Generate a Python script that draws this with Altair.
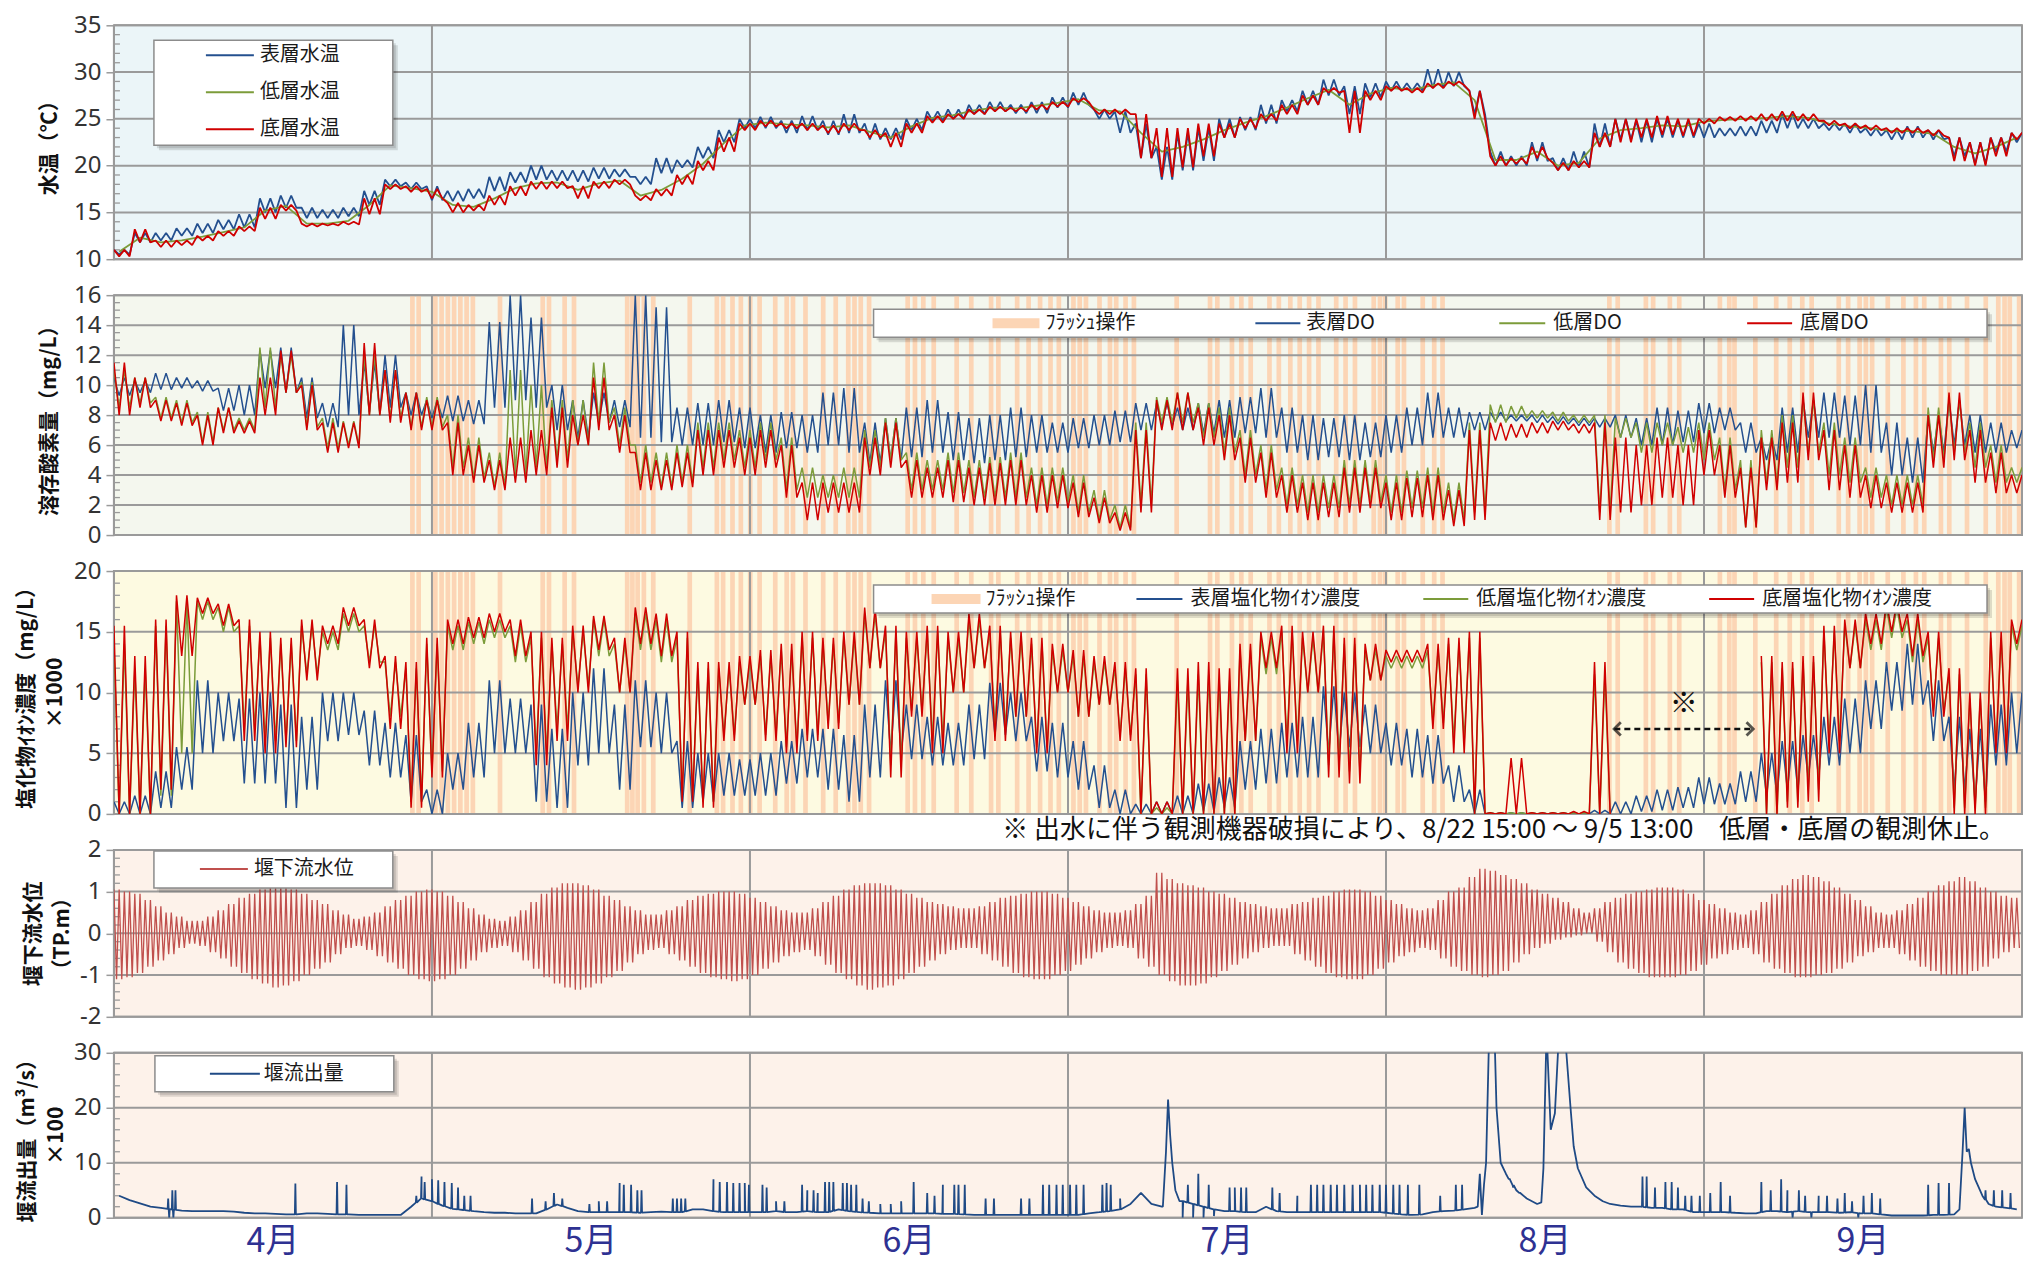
import altair as alt
import numpy as np
import pandas as pd

alt.data_transformers.disable_max_rows()

# ---------------- labels / axis text ----------------
MONTH_LABELS = ["4月", "5月", "6月", "7月", "8月", "9月"]
MONTH_START = [0, 30.5, 61, 91.5, 122, 152.5, 183]
MONTH_MID = [15.25, 45.75, 76.25, 106.75, 137.25, 167.75]

# ---------------- panel 1 : water temperature (2-day bins, hi / lo) ----------------
TEMP_SURF_HI = [11.0, 12.8, 12.8, 13.3, 13.8, 14.2, 14.8, 16.5, 16.8, 15.5,
                15.3, 15.5, 17.3, 18.5, 18.2, 17.8, 17.3, 17.5, 18.8, 19.3,
                20.0, 19.5, 19.5, 19.8, 19.6, 18.8, 20.8, 20.6, 22.0, 23.8,
                25.0, 25.2, 24.8, 25.3, 24.8, 25.5, 24.5, 24.0, 25.0, 25.8,
                26.0, 26.5, 26.8, 26.5, 26.8, 27.3, 27.8, 26.0, 25.8, 24.5,
                22.0, 23.5, 24.0, 25.0, 25.2, 26.5, 27.0, 28.0, 29.2, 28.5,
                28.8, 29.0, 28.8, 30.3, 30.0, 28.0, 21.5, 21.0, 22.5, 20.8,
                21.5, 24.5, 25.0, 24.8, 25.0, 24.8, 24.5, 24.0, 24.2, 24.8,
                25.5, 25.0, 24.5, 24.5, 24.0, 23.8, 24.2, 23.8, 23.0, 22.5,
                23.0, 23.5]
TEMP_SURF_LO = [10.5, 11.8, 12.0, 12.5, 12.8, 13.2, 13.4, 15.0, 15.5, 14.4,
                14.4, 14.6, 15.8, 17.8, 17.5, 16.3, 16.2, 16.5, 17.3, 18.2,
                18.5, 18.4, 18.3, 18.6, 18.8, 18.0, 19.2, 19.8, 20.8, 22.5,
                24.0, 24.0, 23.5, 23.8, 23.3, 23.5, 22.8, 22.8, 23.8, 24.8,
                25.0, 25.5, 25.8, 25.6, 25.6, 26.2, 26.5, 25.0, 23.5, 20.8,
                18.5, 19.5, 20.5, 23.0, 23.8, 24.5, 25.8, 26.5, 27.5, 25.5,
                27.3, 28.0, 28.0, 28.3, 28.5, 25.5, 20.0, 20.0, 20.5, 19.5,
                19.8, 22.0, 22.8, 22.5, 23.0, 23.0, 23.0, 23.2, 23.2, 23.5,
                24.0, 24.0, 23.8, 23.5, 23.2, 22.8, 23.0, 22.8, 21.0, 20.2,
                21.5, 22.5]
TEMP_LOW = [10.8, 12.3, 11.8, 12.0, 12.4, 12.9, 13.4, 15.2, 15.7, 13.8,
            13.8, 14.1, 15.8, 17.9, 17.6, 17.2, 15.8, 15.6, 16.5, 17.6,
            18.1, 18.2, 17.4, 18.1, 18.4, 16.8, 17.4, 18.6, 20.2, 22.4,
            24.3, 24.6, 24.4, 24.3, 24.1, 24.3, 23.6, 23.0, 24.2, 25.1,
            25.4, 25.9, 26.2, 26.1, 26.4, 26.7, 27.1, 25.9, 25.8, 23.5,
            21.5, 22.0, 22.8, 23.8, 24.6, 25.3, 26.2, 27.2, 28.1, 26.5,
            27.7, 28.3, 28.1, 28.6, 28.9, 27.0, 20.6, 20.6, 21.5, 20.0,
            20.3, 22.9, 23.8, 24.0, 24.3, 24.2, 24.7, 24.9, 25.0, 25.1,
            25.3, 25.1, 24.5, 24.2, 24.0, 23.7, 23.7, 23.4, 22.0, 21.3,
            22.0, 23.0]
TEMP_BOT_HI = [11.0, 13.2, 12.0, 12.0, 12.5, 13.0, 13.5, 15.5, 15.8, 13.8,
               13.8, 14.0, 16.5, 18.0, 17.8, 17.5, 16.0, 15.8, 16.8, 17.8,
               18.3, 18.3, 17.8, 18.3, 18.5, 16.8, 17.5, 19.0, 20.5, 23.0,
               24.5, 24.8, 24.5, 24.5, 24.3, 24.5, 23.8, 23.5, 24.5, 25.3,
               25.5, 26.0, 26.3, 26.2, 26.5, 26.8, 27.2, 26.0, 26.0, 25.5,
               24.0, 24.0, 24.5, 24.5, 25.0, 25.5, 26.5, 27.5, 28.3, 28.0,
               28.0, 28.5, 28.3, 28.8, 29.0, 28.0, 21.0, 20.8, 22.0, 20.3,
               20.5, 23.5, 25.0, 25.0, 25.3, 25.0, 25.0, 25.2, 25.3, 25.5,
               25.8, 25.5, 24.8, 24.5, 24.3, 24.0, 24.0, 23.8, 23.0, 22.5,
               23.0, 23.5]
TEMP_BOT_LO = [10.3, 11.8, 11.3, 11.5, 12.0, 12.5, 13.0, 14.3, 15.2, 13.5,
               13.6, 13.7, 14.8, 17.5, 17.2, 16.5, 15.0, 15.2, 15.8, 16.8,
               17.5, 17.6, 16.5, 17.6, 18.0, 16.3, 16.8, 18.0, 19.5, 21.5,
               23.8, 24.2, 24.0, 23.8, 23.5, 23.8, 23.0, 22.0, 23.5, 24.6,
               25.0, 25.5, 25.8, 25.8, 26.0, 26.3, 26.8, 25.5, 25.5, 20.8,
               18.8, 19.8, 21.0, 23.0, 24.0, 24.8, 25.5, 26.5, 27.8, 23.5,
               27.0, 28.0, 27.8, 28.3, 28.6, 25.0, 20.0, 20.2, 20.8, 19.5,
               19.8, 22.0, 22.5, 23.0, 23.3, 23.2, 24.5, 24.8, 24.8, 24.8,
               24.8, 24.8, 24.3, 24.0, 23.8, 23.5, 23.5, 23.2, 20.5, 20.0,
               21.0, 22.8]

# ---------------- panel 2 : dissolved oxygen (mg/L) ----------------
DO_SURF_HI = [10.5, 10.3, 10.8, 10.5, 10.3, 9.8, 10.0, 12.3, 12.5, 10.5,
              8.8, 14.0, 11.5, 12.0, 9.5, 9.0, 9.3, 9.0, 14.2, 16.0,
              14.5, 10.0, 9.0, 9.5, 9.0, 16.0, 15.2, 8.5, 8.8, 9.0,
              8.5, 8.0, 8.2, 8.0, 9.5, 9.8, 7.5, 7.8, 8.5, 9.0,
              8.2, 7.8, 8.0, 8.5, 8.0, 7.5, 7.8, 8.0, 8.3, 8.8,
              8.8, 8.5, 8.8, 9.0, 9.2, 9.8, 8.5, 8.0, 7.8, 8.0,
              7.5, 8.0, 8.5, 9.5, 8.5, 8.2, 8.2, 8.0, 8.0, 7.9,
              7.8, 7.8, 8.0, 7.8, 8.5, 8.3, 8.8, 8.5, 7.5, 6.5,
              8.5, 9.0, 9.5, 9.3, 10.0, 7.5, 6.5, 8.0, 9.0, 8.0,
              7.5, 7.0]
DO_SURF_LO = [9.3, 9.5, 9.7, 9.8, 9.6, 8.3, 8.0, 9.8, 9.5, 7.8,
              7.2, 8.0, 8.2, 8.5, 8.0, 7.8, 7.6, 7.4, 8.5, 9.0,
              8.5, 7.0, 6.5, 7.5, 7.2, 6.5, 6.2, 6.0, 6.0, 6.2,
              5.8, 5.5, 5.8, 5.5, 6.0, 5.5, 4.8, 5.0, 5.2, 5.5,
              5.0, 4.8, 5.0, 5.2, 5.5, 5.5, 5.8, 6.0, 6.2, 7.0,
              7.3, 7.0, 6.8, 6.5, 6.8, 6.5, 5.5, 5.0, 5.2, 5.0,
              5.2, 5.5, 6.0, 6.5, 6.5, 7.0, 7.6, 7.6, 7.5, 7.4,
              7.3, 7.2, 6.5, 6.0, 6.0, 6.2, 6.8, 7.0, 5.5, 5.0,
              5.5, 6.5, 6.5, 6.0, 5.5, 4.0, 3.5, 5.5, 6.0, 5.5,
              5.5, 5.8]
DO_LOW_HI = [11.0, 10.5, 9.2, 9.0, 8.2, 8.5, 7.8, 12.5, 12.0, 10.2,
             7.8, 7.6, 12.0, 11.0, 9.5, 9.2, 8.0, 6.5, 5.5, 11.0,
             10.0, 9.0, 9.0, 11.5, 8.5, 6.0, 5.5, 6.0, 7.5, 7.5,
             7.0, 7.5, 6.5, 4.5, 4.0, 4.5, 7.0, 7.8, 5.5, 5.0,
             5.5, 5.0, 5.2, 5.5, 4.5, 4.5, 4.0, 3.0, 2.0, 7.5,
             9.2, 9.5, 8.8, 8.5, 7.0, 6.0, 4.5, 4.0, 4.0, 5.0,
             5.0, 4.0, 4.3, 4.5, 3.5, 7.5, 8.7, 8.6, 8.3, 8.2,
             8.0, 8.0, 7.8, 7.5, 7.5, 7.2, 7.5, 6.5, 5.0, 7.0,
             8.0, 9.0, 7.5, 6.5, 4.5, 4.0, 4.0, 8.5, 9.0, 7.5,
             6.0, 4.5]
DO_LOW_LO = [8.5, 8.8, 7.8, 7.5, 6.2, 7.0, 7.0, 8.5, 9.5, 7.2,
             5.8, 6.0, 8.0, 7.8, 7.2, 7.2, 4.5, 3.8, 3.2, 4.0,
             4.5, 5.0, 6.0, 7.5, 6.0, 3.5, 3.2, 3.5, 4.5, 5.0,
             4.5, 5.0, 3.0, 2.5, 2.5, 2.5, 4.5, 5.0, 3.0, 3.0,
             2.8, 2.5, 2.5, 2.5, 2.0, 2.2, 1.5, 1.0, 0.5, 2.0,
             7.5, 7.5, 6.5, 5.5, 4.0, 3.0, 2.0, 1.5, 1.8, 2.0,
             2.2, 1.5, 1.8, 1.5, 1.0, 1.5, 7.5, 7.8, 7.8, 7.6,
             7.5, 1.5, 6.5, 5.5, 6.0, 5.5, 5.0, 3.0, 0.5, 3.5,
             4.5, 5.5, 4.0, 3.5, 2.5, 2.0, 2.0, 5.0, 5.5, 4.5,
             3.5, 3.5]
DO_BOT_HI = [11.5, 10.5, 9.0, 8.8, 8.0, 8.5, 7.6, 10.5, 12.3, 10.0,
             7.5, 7.5, 12.8, 11.0, 9.5, 9.0, 7.5, 6.0, 5.0, 6.5,
             7.0, 8.5, 8.0, 10.5, 8.0, 5.5, 5.0, 5.5, 7.0, 7.0,
             6.5, 7.0, 6.0, 3.5, 3.5, 3.5, 6.5, 7.5, 5.0, 4.5,
             5.0, 4.5, 4.8, 5.0, 4.0, 4.0, 3.5, 2.5, 1.5, 7.0,
             9.0, 9.5, 8.5, 8.0, 6.5, 5.5, 4.0, 3.5, 3.5, 4.5,
             4.5, 3.5, 3.8, 4.0, 3.0, 7.0, 7.5, 7.4, 7.5, 7.6,
             7.4, 7.5, 6.5, 6.0, 6.5, 6.0, 7.0, 6.0, 4.5, 6.5,
             7.5, 9.5, 7.0, 6.0, 4.0, 3.5, 3.5, 8.0, 9.5, 7.0,
             5.5, 4.0]
DO_BOT_LO = [8.0, 8.5, 7.6, 7.3, 6.0, 6.8, 6.8, 8.0, 9.5, 7.0,
             5.5, 5.8, 8.0, 7.5, 7.0, 7.0, 4.0, 3.5, 3.0, 3.5,
             4.0, 4.5, 6.0, 7.0, 5.5, 3.0, 3.0, 3.2, 4.0, 4.5,
             4.0, 4.5, 2.5, 1.0, 1.5, 1.5, 4.0, 4.5, 2.5, 2.5,
             2.2, 2.0, 2.0, 2.0, 1.5, 1.8, 1.2, 0.8, 0.3, 1.5,
             7.0, 7.0, 6.0, 5.0, 3.5, 2.5, 1.5, 1.0, 1.2, 1.5,
             1.8, 1.0, 1.2, 1.0, 0.6, 1.0, 6.3, 6.5, 6.8, 7.0,
             6.8, 1.0, 1.5, 2.0, 2.5, 2.0, 4.0, 2.5, 0.5, 3.0,
             3.5, 5.0, 3.0, 2.5, 1.8, 1.5, 1.5, 4.5, 5.0, 3.5,
             2.8, 2.8]

# ---------------- panel 3 : chloride (mg/L x1000) ----------------
N = None
CL_SURF_HI = [1.0, 1.5, 3.5, 5.5, 11.0, 10.0, 9.5, 10.0, 9.0, 8.0,
              10.0, 10.0, 8.5, 7.5, 6.5, 2.0, 5.0, 7.5, 11.0, 9.5,
              9.0, 7.0, 10.0, 12.0, 9.0, 11.0, 10.0, 6.0, 5.0, 5.0,
              4.5, 5.0, 6.0, 7.0, 7.0, 6.5, 9.0, 11.0, 9.0, 8.0,
              7.5, 9.0, 10.8, 10.0, 8.0, 7.5, 6.0, 4.0, 2.0, 0.8,
              1.0, 1.5, 2.5, 3.0, 6.0, 7.0, 7.5, 8.0, 10.5, 10.0,
              9.0, 7.5, 7.0, 6.5, 4.0, 2.0, 0.1, 0.1, 0.1, 0.1,
              0.1, 0.3, 1.0, 1.5, 2.0, 2.2, 3.0, 2.5, 3.5, 5.0,
              6.0, 6.5, 8.0, 9.5, 11.0, 12.5, 14.0, 11.0, 8.0, 7.0,
              9.0, 10.0]
CL_SURF_LO = [0.0, 0.0, 0.5, 2.0, 5.0, 6.0, 2.5, 2.5, 0.5, 2.0,
              6.0, 6.5, 4.0, 3.0, 1.0, 0.0, 2.0, 3.0, 5.0, 5.0,
              1.0, 0.5, 4.0, 5.0, 2.0, 5.5, 5.0, 0.5, 1.0, 1.5,
              1.5, 1.5, 2.5, 3.0, 2.0, 1.0, 3.0, 5.0, 4.5, 4.0,
              4.0, 4.5, 6.5, 6.0, 3.5, 3.0, 2.0, 0.5, 0.0, 0.0,
              0.0, 0.0, 0.2, 0.5, 2.0, 2.5, 3.0, 3.0, 5.0, 5.5,
              5.0, 4.0, 3.0, 2.5, 1.0, 0.0, 0.0, 0.0, 0.0, 0.0,
              0.0, 0.0, 0.0, 0.2, 0.3, 0.5, 0.8, 0.8, 1.0, 1.5,
              2.0, 3.0, 4.0, 5.0, 7.0, 8.5, 9.0, 6.0, 2.0, 1.0,
              4.0, 5.0]
CL_LOW_HI = [14.0, 12.0, 15.5, 17.5, 17.5, 17.0, 15.5, 14.5, 14.0, 15.5,
             15.0, 16.5, 15.5, 12.5, 12.0, 14.0, 15.5, 15.8, 16.0, 15.5,
             14.5, 14.0, 15.0, 16.0, 14.0, 16.5, 16.0, 14.5, 12.0, 12.0,
             12.5, 13.0, 13.5, 14.5, 14.0, 14.5, 16.5, 15.0, 14.5, 15.0,
             14.5, 16.0, 15.0, 14.5, 14.0, 13.5, 13.0, 12.5, 12.0, 11.5,
             0.5, 11.0, 11.5, 11.0, 13.5, 14.5, 15.0, 14.5, 15.0, 14.0,
             13.5, 13.0, 13.0, 13.5, 14.0, 14.5, 0.1, 0.1, 0.1, 0.1,
             0.1, 11.5, N, N, N, N, N, N, N, 12.5,
             12.0, 12.5, 15.0, 15.5, 16.0, 17.0, 16.0, 14.5, 11.5, 9.5,
             14.5, 15.5]
CL_LOW_LO = [0.0, 0.0, 1.5, 5.0, 16.0, 15.0, 7.0, 6.0, 6.0, 11.5,
             13.5, 15.0, 12.5, 8.0, 1.0, 3.5, 13.5, 14.0, 14.5, 12.5,
             5.0, 7.0, 10.5, 13.0, 10.0, 13.5, 12.5, 1.5, 1.0, 6.5,
             9.0, 6.5, 5.5, 6.5, 7.5, 9.0, 12.0, 4.0, 8.5, 6.0,
             10.0, 12.0, 7.0, 8.0, 5.5, 10.0, 8.0, 9.0, 6.5, 0.0,
             0.0, 0.0, 0.0, 0.0, 6.0, 11.5, 6.0, 10.0, 4.0, 3.5,
             11.0, 12.0, 12.0, 7.5, 6.0, 0.0, 0.0, 0.0, 0.0, 0.0,
             0.0, 0.0, N, N, N, N, N, N, N, 0.0,
             1.0, 2.0, 6.0, 12.0, 13.5, 14.5, 12.5, 8.5, 0.5, 0.5,
             5.5, 13.5]
CL_BOT_HI = [15.5, 13.0, 16.0, 18.0, 17.8, 17.3, 16.0, 15.0, 14.5, 16.0,
             15.5, 17.0, 16.0, 13.0, 12.5, 14.5, 16.0, 16.2, 16.5, 16.0,
             15.0, 14.5, 15.5, 16.3, 14.5, 17.0, 16.5, 15.0, 12.5, 12.5,
             13.0, 13.5, 14.0, 15.0, 14.5, 15.0, 17.0, 15.5, 15.0, 15.5,
             15.0, 16.5, 15.5, 15.0, 14.5, 14.0, 13.5, 13.0, 12.5, 12.0,
             1.0, 12.0, 12.5, 12.0, 14.0, 15.0, 15.5, 15.0, 15.5, 14.5,
             14.0, 13.5, 13.5, 14.0, 14.5, 15.0, 0.1, 4.6, 0.1, 0.1,
             0.2, 12.5, N, N, N, N, N, N, N, 13.0,
             12.5, 13.0, 15.5, 16.0, 16.5, 17.5, 16.5, 15.0, 12.0, 10.0,
             15.0, 16.0]
CL_BOT_LO = [0.0, 0.0, 2.0, 13.0, 16.5, 15.5, 6.0, 5.0, 5.5, 11.0,
             14.0, 15.5, 12.0, 7.0, 0.5, 3.0, 14.0, 14.5, 15.0, 13.0,
             4.0, 6.0, 10.0, 13.5, 10.0, 14.0, 13.0, 1.0, 0.5, 6.0,
             9.0, 6.0, 5.0, 6.0, 7.0, 9.0, 12.0, 3.0, 8.0, 5.0,
             10.0, 12.0, 6.0, 8.0, 5.0, 10.0, 8.0, 9.0, 6.0, 0.0,
             0.0, 0.0, 0.0, 0.0, 6.0, 12.0, 5.0, 10.0, 3.0, 2.5,
             11.0, 12.5, 12.5, 7.0, 5.0, 0.0, 0.0, 0.0, 0.0, 0.0,
             0.0, 0.0, N, N, N, N, N, N, N, 0.0,
             0.5, 1.0, 5.0, 12.0, 14.0, 15.0, 13.0, 8.0, 0.0, 0.0,
             5.0, 14.0]

# flush operations (start day, since Apr 1)
FLUSH_DAYS = [28.4, 29.0, 30.6, 31.2, 31.8, 32.4, 33.0, 33.6, 34.2, 36.8, 40.9, 41.5,
              43.0, 43.9, 49.0, 49.5, 50.0, 50.6, 51.5, 55.0, 57.6, 58.2, 59.1, 59.9,
              60.8, 61.7, 63.2, 64.3, 64.9, 66.1, 67.8, 69.0, 70.2, 70.8, 71.4, 72.2,
              75.9, 76.6, 77.4, 78.4, 80.6, 82.0, 83.9, 84.6, 86.4, 87.5, 88.6, 89.6,
              90.4, 91.8, 92.4, 93.0, 94.3, 95.3, 95.9, 96.8, 97.6, 101.7, 104.9, 105.6,
              107.0, 107.9, 108.8, 110.6, 111.5, 112.6, 113.5, 114.4, 115.3, 117.0, 117.9,
              118.8, 120.6, 121.2, 121.7, 122.9, 123.5, 125.3, 126.4, 127.2, 143.2, 144.0,
              146.7, 147.4, 149.0, 149.9, 153.8, 154.7, 155.2, 157.2, 159.2, 160.5, 161.7,
              162.6, 165.2, 166.1, 167.2, 167.8, 168.4, 169.9, 171.4, 172.6, 173.4, 175.0,
              175.8, 177.5, 179.3, 180.5, 181.1, 181.6, 182.5]
FLUSH_LEN = 0.45

GAP_START, GAP_END = 143.6, 157.5
NOTE = "※ 出水に伴う観測機器破損により、8/22 15:00 ～ 9/5 13:00　低層・底層の観測休止。"

# ---------------- panel 4 : downstream water level (daily high / low, TP.m) ----------------
TIDE_HI = [1.05, 1.0, 0.95, 0.8, 0.65, 0.5, 0.4, 0.3,
           0.3, 0.4, 0.55, 0.7, 0.85, 0.95, 1.05, 1.1,
           1.1, 1.05, 0.95, 0.8, 0.7, 0.55, 0.45, 0.35,
           0.4, 0.5, 0.65, 0.8, 0.9, 1.0, 1.05,
           1.0, 0.9, 0.75, 0.6, 0.45, 0.35, 0.3,
           0.4, 0.55, 0.75, 0.95, 1.1, 1.2, 1.2,
           1.15, 1.05, 0.9, 0.8, 0.65, 0.55, 0.45, 0.45,
           0.55, 0.65, 0.8, 0.9, 0.95, 1.0, 1.0,
           0.95, 0.85, 0.75, 0.65, 0.55, 0.5, 0.5,
           0.6, 0.75, 0.9, 1.05, 1.15, 1.2, 1.2, 1.15,
           1.05, 0.95, 0.85, 0.75, 0.7, 0.65, 0.6, 0.6,
           0.65, 0.75, 0.85, 0.9, 0.95, 1.0, 1.0,
           0.95, 0.85, 0.75, 0.65, 0.55, 0.5, 0.5, 0.55,
           0.7, 0.9, 1.45, 1.3, 1.2, 1.15, 1.1,
           1.0, 0.95, 0.85, 0.75, 0.7, 0.65, 0.6, 0.6,
           0.7, 0.75, 0.85, 0.9, 1.0, 1.05, 1.05,
           1.0, 0.9, 0.8, 0.7, 0.6, 0.55, 0.6,
           0.8, 1.0, 1.1, 1.35, 1.55, 1.5, 1.4,
           1.3, 1.2, 1.05, 0.95, 0.85, 0.75, 0.6, 0.5,
           0.6, 0.75, 0.85, 0.95, 1.0, 1.05, 1.1, 1.1,
           1.05, 0.95, 0.8, 0.7, 0.6, 0.5, 0.45,
           0.55, 0.75, 0.95, 1.15, 1.3, 1.4,
           1.35, 1.25, 1.1, 0.95, 0.8, 0.65, 0.5, 0.45,
           0.55, 0.7, 0.85, 1.0, 1.15, 1.25, 1.35,
           1.25, 1.1, 1.0, 0.9, 0.85]
TIDE_LO = [-1.1, -1.05, -0.95, -0.8, -0.65, -0.5, -0.35, -0.25,
           -0.3, -0.45, -0.6, -0.8, -0.95, -1.1, -1.2, -1.3,
           -1.25, -1.15, -1.0, -0.85, -0.7, -0.5, -0.35, -0.3,
           -0.4, -0.55, -0.7, -0.85, -1.0, -1.1, -1.15,
           -1.1, -1.0, -0.85, -0.65, -0.45, -0.35, -0.3,
           -0.45, -0.65, -0.85, -1.05, -1.2, -1.3, -1.35,
           -1.3, -1.2, -1.05, -0.9, -0.7, -0.5, -0.4, -0.35,
           -0.5, -0.65, -0.8, -0.95, -1.05, -1.1, -1.15,
           -1.1, -1.0, -0.85, -0.7, -0.55, -0.45, -0.4,
           -0.55, -0.75, -0.95, -1.1, -1.25, -1.35, -1.3, -1.25,
           -1.1, -0.95, -0.8, -0.65, -0.5, -0.4, -0.35, -0.35,
           -0.5, -0.65, -0.8, -0.95, -1.05, -1.1, -1.1,
           -1.0, -0.9, -0.75, -0.6, -0.45, -0.35, -0.3, -0.35,
           -0.6, -0.8, -1.0, -1.15, -1.25, -1.25, -1.2,
           -1.05, -0.9, -0.75, -0.6, -0.45, -0.35, -0.3, -0.3,
           -0.5, -0.65, -0.8, -0.95, -1.05, -1.1, -1.1,
           -1.0, -0.85, -0.7, -0.55, -0.45, -0.35, -0.4,
           -0.6, -0.8, -0.9, -1.0, -1.05, -1.0, -0.9,
           -0.7, -0.5, -0.35, -0.25, -0.15, -0.1, -0.05, 0.0,
           -0.2, -0.45, -0.7, -0.85, -0.95, -1.05, -1.05, -1.05,
           -1.0, -0.9, -0.75, -0.6, -0.5, -0.4, -0.35,
           -0.5, -0.7, -0.85, -0.95, -1.05, -1.05,
           -1.0, -0.95, -0.85, -0.7, -0.55, -0.45, -0.35, -0.35,
           -0.5, -0.65, -0.8, -0.9, -1.0, -1.0, -1.0,
           -0.9, -0.8, -0.6, -0.45, -0.35]

# ---------------- panel 5 : weir outflow (x100 m3/s) ----------------
FLOW_BASE = [4.0, 3.2, 2.6, 2.0, 1.8, 1.5, 1.3, 1.2, 1.2, 1.2,
             1.2, 1.1, 0.9, 0.8, 0.8, 0.7, 0.6, 0.6, 0.8, 0.8,
             0.7, 0.6, 0.6, 0.5, 0.5, 0.5, 0.5, 0.5, 2.0, 3.5,
             3.0, 2.2, 1.6, 1.4, 1.2, 1.0, 0.9, 0.9, 0.8, 0.8,
             0.8, 1.5, 2.4, 1.8, 1.2, 1.0, 1.0, 1.0, 1.0, 1.0,
             0.9, 1.0, 1.1, 1.0, 1.0, 1.5, 1.5, 1.2, 1.0, 1.0,
             1.0, 1.0, 1.0, 1.2, 1.0, 1.0, 1.2, 1.0, 1.0, 1.5,
             1.2, 1.0, 0.9, 0.8, 0.8, 0.8, 0.8, 0.8, 0.8, 0.7,
             0.7, 0.6, 0.5, 0.5, 0.5, 0.5, 0.5, 0.5, 0.5, 0.5,
             0.5, 0.5, 0.5, 0.8, 1.0, 1.2, 1.5, 2.5, 4.5, 2.5,
             2.0, N, 3.0, 2.5, 2.0, 1.5, 1.2, 1.2, 1.0, 1.0,
             2.0, 1.2, 1.0, 1.0, 1.0, 1.0, 1.0, 1.0, 1.0, 1.0,
             1.0, 1.0, 0.8, 0.6, 0.5, 0.6, 1.0, 1.2, 1.3, 1.5,
             1.8, N, N, N, N, N, N, N, N, N,
             N, N, N, 2.5, 2.2, 2.0, 2.0, 1.8, 1.8, 1.5,
             1.5, 1.0, 1.0, 1.0, 1.0, 0.9, 0.8, 0.8, 1.2, 1.2,
             1.0, 1.2, 1.0, 1.0, 1.0, 0.9, 1.0, 0.8, 0.8, 0.6,
             0.4, 0.4, 0.4, 0.4, 0.5, 0.5, 0.6, N, N, N,
             2.0, 1.8, 1.5]
FLOW_EVENT_T = [100.6, 100.9, 101.1, 101.3, 101.5, 101.8, 102.2,
                130.8, 131.0, 131.2, 131.4, 131.6, 131.9, 132.4, 132.6, 133.0, 133.5, 134.5,
                135.5, 136.5, 136.9, 137.1, 137.4, 137.8, 138.2, 138.6, 139.3, 139.7, 140.0,
                140.4, 141.2, 142.0, 142.8,
                177.0, 177.3, 177.5, 177.7, 177.9, 178.1, 178.5, 179.2, 179.8]
FLOW_EVENT_V = [2.0, 12.0, 21.5, 15.0, 10.0, 5.0, 3.0,
                2.0, 8.0, 0.5, 6.0, 10.0, 34.0, 34.0, 20.0, 10.0, 8.0, 5.0,
                3.5, 2.5, 2.8, 9.0, 34.0, 16.0, 19.0, 34.0, 30.0, 20.0, 13.0,
                9.0, 5.5, 4.0, 3.0,
                1.5, 12.0, 20.0, 12.0, 12.5, 10.0, 7.0, 4.0, 2.5]
PULSE_T = [5.2, 5.3, 5.6, 5.7, 5.9, 17.4, 21.4, 22.3,
           29.0, 29.5, 29.8, 30.5, 31.1, 31.7, 32.4, 33.0, 33.6, 34.2,
           40.1, 41.4, 42.2, 43.0, 45.6, 46.5, 47.3, 48.5, 48.9, 49.6, 50.2, 50.6,
           53.6, 54.0, 54.4, 54.8,
           57.5, 58.1, 58.8, 59.4, 60.0, 60.5, 60.9, 62.2, 62.6, 63.5, 64.3,
           66.0, 66.5, 67.1, 67.5, 68.2, 68.6, 69.0, 69.9, 70.3, 70.7, 71.2, 71.8, 72.4,
           73.5, 74.5, 75.5, 76.7, 78.0, 78.7, 79.5, 80.6, 81.0, 81.6, 83.6, 84.4,
           87.0, 87.8, 89.1, 89.7, 90.4, 91.0, 91.7, 92.3, 93.0, 94.8, 95.2, 95.6, 96.5,
           102.5, 103.0, 103.5, 104.0, 104.5, 105.0, 105.5, 107.0, 107.5, 108.1, 108.6,
           111.1, 111.8, 113.5, 114.8, 115.4, 116.0, 116.7, 117.3, 118.0, 118.8, 119.5,
           120.1, 120.7, 121.4, 122.0, 122.7, 123.3, 124.1, 125.2, 127.2, 128.7, 129.3,
           133.8, 134.2, 134.8, 146.6, 147.0, 147.8, 148.8, 149.4, 150.0, 150.7, 151.3,
           152.1, 153.1, 154.1, 155.0, 158.0, 158.9, 159.9, 160.5, 161.0, 161.6, 162.2,
           162.8, 163.5, 164.3, 165.3, 166.0, 166.7, 167.3, 167.8, 168.6, 169.4,
           174.0, 175.0, 176.0, 179.5, 180.3, 181.1, 181.9]
PULSE_H = [3.5, 0.0, 5.0, 0.0, 5.0, 6.2, 6.5, 6.0,
           4.0, 7.5, 6.5, 7.0, 6.8, 6.5, 6.3, 5.5, 4.0, 4.0,
           3.5, 3.0, 4.5, 3.5, 2.5, 3.0, 3.0, 6.3, 6.0, 6.0, 5.0, 5.0,
           3.5, 3.5, 3.5, 3.5,
           7.0, 6.5, 6.5, 6.3, 6.3, 6.3, 6.0, 6.0, 5.5, 3.0, 3.0,
           6.0, 5.0, 5.0, 4.5, 6.5, 6.5, 6.5, 6.3, 6.3, 6.0, 6.0, 3.5, 3.0,
           2.5, 2.5, 3.0, 6.5, 4.5, 4.0, 6.0, 6.0, 6.0, 6.0, 3.5, 3.5,
           3.5, 3.5, 6.0, 6.0, 6.0, 6.0, 6.0, 6.0, 6.0, 6.0, 6.3, 6.0, 3.5,
           0.0, 6.0, 0.0, 8.0, 0.0, 6.0, 0.3, 5.5, 5.5, 5.5, 5.5,
           5.5, 4.5, 4.0, 6.0, 6.0, 6.0, 6.0, 6.0, 6.0, 6.0, 6.0,
           6.0, 6.0, 6.0, 6.0, 6.0, 6.0, 6.0, 6.0, 4.0, 6.0, 6.0,
           7.0, 5.5, 4.5, 7.5, 7.5, 5.5, 6.5, 6.5, 5.5, 4.0, 4.0,
           4.0, 4.5, 6.5, 4.0, 6.5, 5.0, 7.0, 5.0, 0.0, 5.0, 4.0,
           0.0, 4.0, 4.0, 3.5, 4.5, 3.0, 0.0, 4.0, 4.5, 3.5,
           6.0, 6.3, 6.3, 5.0, 5.0, 5.0, 4.5]

# ---------------- styling ----------------
BLUE, GREEN, RED = "#24508f", "#7c9c3a", "#d00000"
TIDE_C, FLOW_C = "#c0504d", "#1f4a85"
BAND_C = "#fcd5b5"
GRID = "#9a9a9a"
JP = "Noto Sans CJK JP"
NUMF = "Noto Sans"
W = 1909
H1, H2, H3, H4, H5 = 234, 240, 243, 167, 165

for arr in [TEMP_SURF_HI, TEMP_SURF_LO, TEMP_LOW, TEMP_BOT_HI, TEMP_BOT_LO,
            DO_SURF_HI, DO_SURF_LO, DO_LOW_HI, DO_LOW_LO, DO_BOT_HI, DO_BOT_LO,
            CL_SURF_HI, CL_SURF_LO, CL_LOW_HI, CL_LOW_LO, CL_BOT_HI, CL_BOT_LO]:
    assert len(arr) == 92, len(arr)
assert len(TIDE_HI) == 183 and len(TIDE_LO) == 183 and len(FLOW_BASE) == 183
assert len(PULSE_T) == len(PULSE_H) and len(FLOW_EVENT_T) == len(FLOW_EVENT_V)


def zigzag(hi, lo, step=2.0, cycles=2):
    """draw each 2-day bin as its read high and low, alternating `cycles` times"""
    t, v, seg = [], [], []
    s, gap = 0, False
    dt = step / (2 * cycles)
    for k, (h, l) in enumerate(zip(hi, lo)):
        if h is None:
            if not gap:
                s += 1
            gap = True
            continue
        gap = False
        for c in range(cycles):
            t += [k * step + (2 * c) * dt, k * step + (2 * c + 1) * dt]
            v += [h, l]
            seg += [s, s]
    return pd.DataFrame({"t": t, "v": v, "seg": seg})


def single(vals, step=2.0):
    return pd.DataFrame({"t": [k * step + 0.5 for k in range(len(vals))], "v": vals,
                         "seg": [0] * len(vals)})


# tide: two highs and two lows per day
tt, tv = [], []
for d, (h, l) in enumerate(zip(TIDE_HI, TIDE_LO)):
    tt += [d, d + 0.25, d + 0.5, d + 0.75]
    tv += [h, l, h, l]
tide_df = pd.DataFrame({"t": tt, "v": tv, "seg": 0})

# flow: daily base + flood events + short gate pulses
ft = [d + 0.5 for d, b in enumerate(FLOW_BASE) if b is not None] + FLOW_EVENT_T
fv = [b for b in FLOW_BASE if b is not None] + FLOW_EVENT_V
o = np.argsort(ft)
ft = list(np.array(ft)[o]); fv = list(np.array(fv)[o])
pt, pv = [], []
for t, h in zip(PULSE_T, PULSE_H):
    b = float(np.interp(t, ft, fv))
    pt += [t - 0.05, t, t + 0.05]
    pv += [b, h, b]
flow_df = pd.DataFrame({"t": ft + pt, "v": fv + pv}).sort_values("t")
flow_df["seg"] = 0

band_df = pd.DataFrame({"t": FLUSH_DAYS, "t1": [d + FLUSH_LEN for d in FLUSH_DAYS]})
one = pd.DataFrame({"a": [0]})

X = alt.X("t:Q", scale=alt.Scale(domain=[0, 183], nice=False, zero=False), axis=None)


def make_y(dom, ticks, title, tpad, labexpr=None):
    ax = dict(values=ticks, title=title, titleFont=JP, titleFontSize=21, titleFontWeight="bold",
              titleColor="#111", titlePadding=tpad, titleLineHeight=29, labelFont=NUMF,
              labelFontSize=24, labelColor="#333", labelPadding=5, labelOverlap=False,
              tickSize=8, tickColor=GRID, tickWidth=1.5, domain=False, grid=False)
    if labexpr:
        ax["labelExpr"] = labexpr
    return alt.Y("v:Q", scale=alt.Scale(domain=dom, nice=False, zero=False), axis=alt.Axis(**ax))


def legend(box, entries):
    x0, y0, x1, y1 = box
    L = [
        alt.Chart(one).mark_rect(color="#000", opacity=0.12).encode(
            x=alt.value(x0 + 5), x2=alt.value(x1 + 5), y=alt.value(y0 + 5), y2=alt.value(y1 + 5)),
        alt.Chart(one).mark_rect(color="#000", opacity=0.12).encode(
            x=alt.value(x0 + 3), x2=alt.value(x1 + 3), y=alt.value(y0 + 3), y2=alt.value(y1 + 3)),
        alt.Chart(one).mark_rect(fill="white", stroke="#8c8c8c", strokeWidth=1.5).encode(
            x=alt.value(x0), x2=alt.value(x1), y=alt.value(y0), y2=alt.value(y1)),
    ]
    for color, width, lx0, lx1, tx, ty, label in entries:
        L.append(alt.Chart(one).mark_rule(color=color, strokeWidth=width).encode(
            x=alt.value(lx0), x2=alt.value(lx1), y=alt.value(ty)))
        L.append(alt.Chart(one).mark_text(align="left", baseline="middle", font=JP, fontSize=20,
                                          color="#1a1a1a").encode(
            x=alt.value(tx), y=alt.value(ty), text=alt.value(label)))
    return L


def panel(h, Y, ticks, minor, bg, lines, bands=False, extra=()):
    layers = []
    if bands:
        layers.append(alt.Chart(band_df).mark_rect(color=BAND_C).encode(
            x=X, x2="t1:Q", y=alt.value(0), y2=alt.value(h)))
    layers.append(alt.Chart(pd.DataFrame({"v": ticks})).mark_rule(color=GRID, strokeWidth=2).encode(y=Y))
    layers.append(alt.Chart(pd.DataFrame({"t": MONTH_START})).mark_rule(color=GRID, strokeWidth=2).encode(x=X))
    layers.append(alt.Chart(pd.DataFrame({"v": minor})).mark_rule(color=GRID, strokeWidth=1.3).encode(
        y=Y, x=alt.value(0), x2=alt.value(6)))
    for df, color, width in lines:
        layers.append(alt.Chart(df).mark_line(color=color, strokeWidth=width, clip=True,
                                              strokeJoin="bevel").encode(x=X, y=Y, detail="seg:N"))
    layers += list(extra)
    return alt.layer(*layers).properties(
        width=W, height=h, view=alt.ViewBackground(fill=bg, stroke=GRID, strokeWidth=2))


minor_t = [v for v in np.arange(10, 35.01, 1.0) if v % 5 != 0]
minor_do = [v for v in np.arange(0, 16.01, 0.5) if v % 2 != 0]
minor_cl = [v for v in np.arange(0, 20.01, 1.0) if v % 5 != 0]
minor_td = [round(v, 1) for v in np.arange(-2, 2.01, 0.2) if abs(v - round(v)) > 1e-6]
minor_fl = [v for v in np.arange(0, 30.01, 2.0) if v % 10 != 0]

T1 = [10, 15, 20, 25, 30, 35]
Y1 = make_y([10, 35], T1, "水温（℃）", 14)
p1 = panel(H1, Y1, T1, minor_t, "#ebf5f8",
           [(zigzag(TEMP_SURF_HI, TEMP_SURF_LO), BLUE, 1.8),
            (single(TEMP_LOW), GREEN, 1.8),
            (zigzag(TEMP_BOT_HI, TEMP_BOT_LO), RED, 1.8)],
           extra=legend((40, 15, 279, 120),
                        [(BLUE, 2, 92, 140, 146, 30, "表層水温"),
                         (GREEN, 2, 92, 140, 146, 67, "低層水温"),
                         (RED, 2, 92, 140, 146, 104, "底層水温")]))

T2 = [0, 2, 4, 6, 8, 10, 12, 14, 16]
Y2 = make_y([0, 16], T2, "溶存酸素量（mg/L）", 14)
p2 = panel(H2, Y2, T2, minor_do, "#f4f7ee",
           [(zigzag(DO_SURF_HI, DO_SURF_LO), BLUE, 1.5),
            (zigzag(DO_LOW_HI, DO_LOW_LO), GREEN, 1.5),
            (zigzag(DO_BOT_HI, DO_BOT_LO), RED, 1.5)],
           bands=True,
           extra=legend((760, 14, 1874, 42),
                        [(BAND_C, 10, 879, 926, 932, 28, "ﾌﾗｯｼｭ操作"),
                         (BLUE, 2, 1142, 1187, 1193, 28, "表層DO"),
                         (GREEN, 2, 1386, 1432, 1440, 28, "低層DO"),
                         (RED, 2, 1634, 1679, 1687, 28, "底層DO")]))

T3 = [0, 5, 10, 15, 20]
Y3 = make_y([0, 20], T3, ["塩化物ｲｵﾝ濃度（mg/L）", "×1000"], 8)
arrow_df = pd.DataFrame({"t": [GAP_START + 0.3], "t1": [GAP_END - 0.3], "v": [7.0]})
cl_extra = [
    alt.Chart(arrow_df).mark_rule(color="#111", strokeWidth=2.5, strokeDash=[6, 4]).encode(
        x=X, x2="t1:Q", y=Y3),
    alt.Chart(pd.DataFrame({"t": [GAP_START + 0.6], "v": [7.0]})).mark_point(
        shape="M0.5,-1L-0.5,0L0.5,1", filled=False, color="#111", strokeWidth=2.8, size=180).encode(
        x=X, y=Y3),
    alt.Chart(pd.DataFrame({"t": [GAP_END - 0.6], "v": [7.0]})).mark_point(
        shape="M-0.5,-1L0.5,0L-0.5,1", filled=False, color="#111", strokeWidth=2.8, size=180).encode(
        x=X, y=Y3),
    alt.Chart(pd.DataFrame({"t": [(GAP_START + GAP_END) / 2], "v": [9.0], "s": ["※"]})).mark_text(
        font=JP, fontSize=28, color="#111", baseline="middle").encode(
        x=X, y=Y3, text="s:N"),
    alt.Chart(one).mark_text(align="right", baseline="middle", font=JP, fontSize=26, color="#111").encode(
        x=alt.value(1892), y=alt.value(H3 + 16), text=alt.value(NOTE)),
]
p3 = panel(H3, Y3, T3, minor_cl, "#fdfae1",
           [(zigzag(CL_SURF_HI, CL_SURF_LO), BLUE, 1.5),
            (zigzag(CL_LOW_HI, CL_LOW_LO), GREEN, 1.5),
            (zigzag(CL_BOT_HI, CL_BOT_LO), RED, 1.5)],
           bands=True,
           extra=cl_extra + legend((760, 14, 1874, 42),
                                   [(BAND_C, 10, 818, 867, 872, 28, "ﾌﾗｯｼｭ操作"),
                                    (BLUE, 2, 1023, 1069, 1077, 28, "表層塩化物ｲｵﾝ濃度"),
                                    (GREEN, 2, 1310, 1355, 1363, 28, "低層塩化物ｲｵﾝ濃度"),
                                    (RED, 2, 1596, 1641, 1649, 28, "底層塩化物ｲｵﾝ濃度")]))

T4 = [-2, -1, 0, 1, 2]
Y4 = make_y([-2, 2], T4, ["堰下流水位", "（TP.m）"], 7, labexpr="'' + datum.value")
p4 = panel(H4, Y4, T4, minor_td, "#fdf2ea",
           [(tide_df, TIDE_C, 1.3)],
           extra=legend((40, 1, 279, 38), [(TIDE_C, 2, 86, 134, 140, 19, "堰下流水位")]))

T5 = [0, 10, 20, 30]
Y5 = make_y([0, 30], T5, ["堰流出量（m³/s）", "×100"], 7)
month_layer = alt.Chart(pd.DataFrame({"t": MONTH_MID, "lab": MONTH_LABELS})).mark_text(
    font=JP, fontSize=34, color="#2e3192", baseline="middle").encode(
    x=X, y=alt.value(H5 + 24), text="lab:N")
p5 = panel(H5, Y5, T5, minor_fl, "#fdf2ea",
           [(flow_df, FLOW_C, 1.8)],
           extra=legend((41, 3, 280, 39), [(FLOW_C, 2, 96, 146, 150, 21, "堰流出量")]) + [month_layer])

chart = alt.vconcat(p1, p2, p3, p4, p5, spacing=36, bounds="flush").properties(
    padding={"left": 6, "top": 4, "right": 4, "bottom": 8},
    background="white",
)

chart.save("out.html", embed_options={"renderer": "svg", "actions": False})
